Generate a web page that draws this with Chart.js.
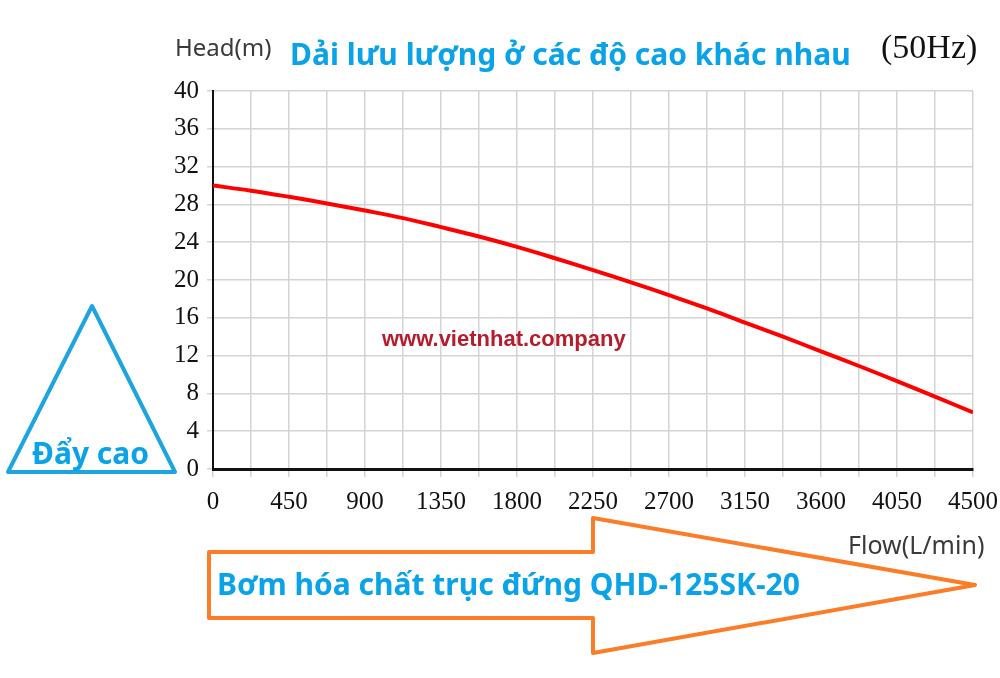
<!DOCTYPE html>
<html>
<head>
<meta charset="utf-8">
<script src="https://cdn.jsdelivr.net/npm/chart.js@4"></script>
<style>
  html, body { margin: 0; padding: 0; background: #fff; }
  #wrap { position: relative; width: 1000px; height: 678px; overflow: hidden; }
  #grafico { position: absolute; left: 0; top: 0; }
  svg { position: absolute; left: 0; top: 0; }
  .txt { position: absolute; white-space: nowrap; line-height: 1; }
  #head { left: 175px; top: 30px; font: 24px "Noto Sans", sans-serif; color: #3a3a3a; }
  #titulo { left: 290px; top: 33px; font: bold 30px "Noto Sans", sans-serif; color: #0aa3e8; }
  #hz { left: 881px; top: 28px; font: 34px "Liberation Serif", serif; color: #111; }
  #site { left: 382px; top: 326px; font: bold 22px "Liberation Sans", sans-serif; color: #b71c2c; }
  #flow { left: 848px; top: 527px; font: 25px "Noto Sans", sans-serif; color: #3a3a3a; }
  #day { left: 32px; top: 432px; font: bold 30px "Noto Sans", sans-serif; color: #0aa3e8; }
  #bom { left: 217px; top: 563px; font: bold 30px "Noto Sans", sans-serif; color: #0aa3e8; }
</style>
</head>
<body>
<div id="wrap">
  <canvas id="grafico" width="1000" height="678"></canvas>
  <svg width="1000" height="678">
    <polygon points="92,306 8,472 175,472" fill="none" stroke="#1ea4e0" stroke-width="4" stroke-linejoin="round"/>
    <polygon points="209,552 593,552 593,518 975,585 593,653 593,618 209,618" fill="none" stroke="#fb7d28" stroke-width="4" stroke-linejoin="round"/>
  </svg>
  <div class="txt" id="head">Head(m)</div>
  <div class="txt" id="titulo">Dải lưu lượng ở các độ cao khác nhau</div>
  <div class="txt" id="hz">(50Hz)</div>
  <div class="txt" id="site">www.vietnhat.company</div>
  <div class="txt" id="flow">Flow(L/min)</div>
  <div class="txt" id="day">Đẩy cao</div>
  <div class="txt" id="bom">Bơm hóa chất trục đứng QHD-125SK-20</div>
</div>
<script>
const luuLuong = [0, 225, 450, 675, 900, 1125, 1350, 1575, 1800, 2025, 2250,
  2475, 2700, 2925, 3150, 3375, 3600, 3825, 4050, 4275, 4500];
const cotAp = [30, 29.45, 28.8, 28.1, 27.35, 26.55, 25.6, 24.6, 23.5, 22.3, 21.05,
  19.75, 18.4, 17.0, 15.5, 14.0, 12.45, 10.9, 9.3, 7.65, 6.0];
const nhanX = [0, 450, 900, 1350, 1800, 2250, 2700, 3150, 3600, 4050, 4500];
const nhanY = [0, 4, 8, 12, 16, 20, 24, 28, 32, 36, 40];

const fonteTick = { family: 'Liberation Serif', size: 25 };

new Chart(document.getElementById('grafico'), {
  type: 'line',
  data: {
    datasets: [{
      data: luuLuong.map((x, i) => ({ x: x, y: cotAp[i] })),
      borderColor: '#ff0000',
      borderWidth: 4,
      pointRadius: 0,
      tension: 0.4,
      fill: false
    }]
  },
  options: {
    responsive: false,
    animation: false,
    layout: { padding: { left: 0, right: 27, top: 91, bottom: 0 } },
    plugins: { legend: { display: false }, tooltip: { enabled: false } },
    scales: {
      x: {
        type: 'linear',
        min: 0,
        max: 4500,
        afterFit: s => { s.height = 209; s.paddingLeft = 0; s.paddingRight = 0; },
        afterBuildTicks: s => { s.ticks = luuLuong.map(v => ({ value: v })); },
        ticks: {
          autoSkip: false,
          maxRotation: 0,
          padding: 10,
          color: '#111',
          font: fonteTick,
          callback: v => nhanX.includes(v) ? String(v) : ''
        },
        grid: { color: '#d4d4d4', lineWidth: 1.5, tickLength: 8 },
        border: { color: '#111', width: 3 }
      },
      y: {
        min: 0,
        max: 40,
        afterFit: s => { s.width = 213; s.paddingTop = 0; s.paddingBottom = 0; },
        afterBuildTicks: s => { s.ticks = nhanY.map(v => ({ value: v })); },
        ticks: {
          padding: 8,
          color: '#111',
          font: fonteTick
        },
        grid: { color: '#d4d4d4', lineWidth: 1.5, tickLength: 6 },
        border: { color: '#111', width: 2 }
      }
    }
  }
});
</script>
</body>
</html>
